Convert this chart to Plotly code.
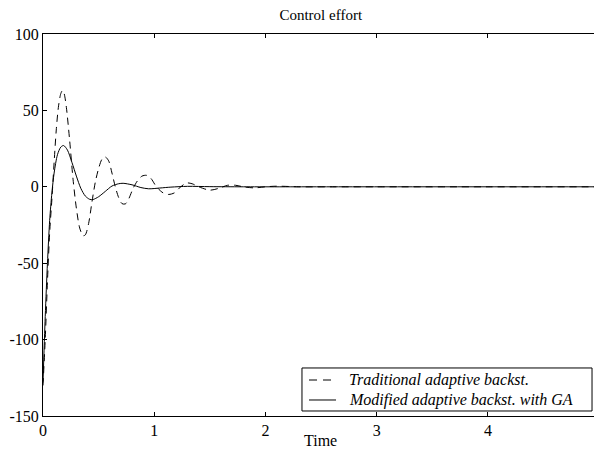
import plotly.graph_objects as go

# Traditional adaptive backstepping (dashed)
t_trad = [0, 0.02, 0.04, 0.06, 0.08, 0.10, 0.12, 0.14, 0.16, 0.175, 0.19, 0.21, 0.24, 0.27,
          0.30, 0.33, 0.36, 0.38, 0.41, 0.44, 0.47, 0.50, 0.53, 0.56, 0.59, 0.62, 0.65,
          0.68, 0.71, 0.74, 0.77, 0.81, 0.85, 0.89, 0.93, 0.97, 1.02, 1.08, 1.13, 1.18,
          1.23, 1.29, 1.34, 1.40, 1.50, 1.58, 1.66, 1.73, 1.80, 1.90, 2.00, 2.10, 2.30,
          2.6, 3.0, 4.0, 5.0]
u_trad = [-130, -100, -62, -30, -8, 16, 38, 53, 61, 63, 61, 52, 30, 5,
          -14, -27, -32, -31.5, -24, -10, 3, 12, 18, 19.5, 17, 9, 0,
          -7, -11, -11.2, -8, -1, 4, 7, 7.5, 5.5, 0, -4, -5, -4,
          -0.5, 2.5, 2, 0, -2.2, -1, 1, 1, 0, -0.7, 0, 0.4, 0,
          0, 0, 0, 0]

# Modified adaptive backstepping with GA (solid)
t_mod = [0, 0.02, 0.04, 0.06, 0.08, 0.10, 0.13, 0.16, 0.185, 0.22, 0.26, 0.30, 0.34,
         0.38, 0.42, 0.45, 0.50, 0.56, 0.62, 0.68, 0.72, 0.80, 0.88, 0.95, 1.05, 1.15,
         1.30, 1.50, 1.80, 2.5, 3.5, 5.0]
u_mod = [-128, -85, -50, -22, -4, 9, 21, 26, 27, 24, 16, 7, -1,
         -6, -8.2, -8.3, -6.5, -3, 0.5, 2, 2.3, 1.3, -0.5, -1.3, -0.8, -0.2,
         0.3, 0.1, 0, 0, 0, 0]

x_ticks = [0, 1, 2, 3, 4]
y_ticks = [-150, -100, -50, 0, 50, 100]

legend_names = ["Traditional adaptive backst.", "Modified adaptive backst. with GA"]
legend_dashes = ["8px,6px", "solid"]
x_title = "Time"

font_family = "Liberation Serif"
tick_font = dict(family=font_family, size=16, color="black")

fig = go.Figure()
fig.add_trace(go.Scatter(x=t_trad, y=u_trad, mode="lines", name=legend_names[0],
                         line=dict(color="black", width=1, dash="7px,5px", shape="spline",
                                   smoothing=0.8)))
fig.add_trace(go.Scatter(x=t_mod, y=u_mod, mode="lines", name=legend_names[1],
                         line=dict(color="black", width=1, shape="spline", smoothing=0.8)))

# Legend box drawn in paper coordinates (MATLAB-style boxed legend)
box = dict(x0=0.470, x1=0.9964, y0=0.0131, y1=0.1257)
row_y = [0.0942, 0.0419]
sym_x = (0.4828, 0.5318)
text_x = 0.5517

fig.add_shape(type="rect", xref="paper", yref="paper", **box,
              line=dict(color="black", width=1), fillcolor="white", layer="above")
for name, dash, yy in zip(legend_names, legend_dashes, row_y):
    fig.add_shape(type="line", xref="paper", yref="paper", x0=sym_x[0], x1=sym_x[1],
                  y0=yy, y1=yy, line=dict(color="black", width=1, dash=dash), layer="above")
    fig.add_annotation(xref="paper", yref="paper", x=text_x, y=yy, text=name,
                       showarrow=False, xanchor="left", yanchor="middle",
                       font=dict(family=font_family, size=16, style="italic", color="black"))

# x-axis title placed like the original (just below the tick labels)
fig.add_annotation(xref="paper", yref="paper", x=0.503, y=-0.064, text=x_title,
                   showarrow=False, xanchor="center", yanchor="middle", borderpad=0,
                   font=dict(family=font_family, size=16, color="black"))

fig.update_layout(
    width=594, height=450,
    margin=dict(l=43, r=0, t=34, b=34, pad=0, autoexpand=False),
    paper_bgcolor="white", plot_bgcolor="white",
    font=dict(family=font_family, size=16, color="black"),
    title=dict(text="Control effort", x=0.54, xanchor="center",
               y=1 - 15 / 450, yref="container", yanchor="middle",
               font=dict(family=font_family, size=15, color="black")),
    showlegend=False,
    xaxis=dict(range=[0, 4.953], tickvals=x_ticks, ticktext=[str(v) for v in x_ticks],
               ticks="inside", ticklen=4, tickcolor="black", showline=True,
               linecolor="black", linewidth=1, mirror="ticks", showgrid=False,
               zeroline=False, tickfont=tick_font),
    yaxis=dict(range=[-150, 100], tickvals=y_ticks, ticktext=[str(v) for v in y_ticks],
               ticks="inside", ticklen=4, tickcolor="black", showline=True,
               linecolor="black", linewidth=1, mirror=False, showgrid=False,
               zeroline=False, tickfont=tick_font),
)

fig.write_html("out.html", config={"displayModeBar": False},
               post_script="document.body.style.margin='0';document.body.style.overflow='hidden';")
